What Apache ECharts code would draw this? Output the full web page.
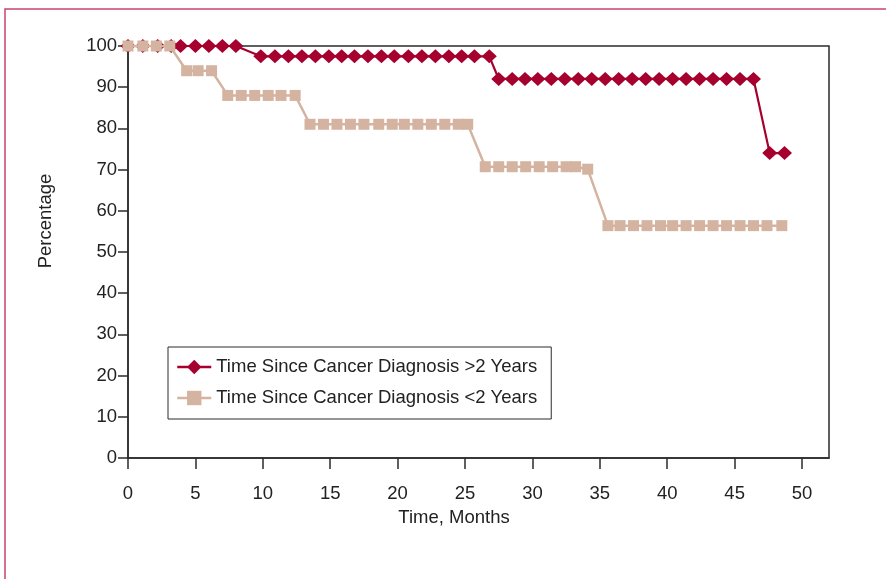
<!DOCTYPE html>
<html>
<head>
<meta charset="utf-8">
<script src="https://cdn.jsdelivr.net/npm/echarts@6/dist/echarts.min.js"></script>
<style>
html,body{margin:0;padding:0;background:#fff;}
#chart{width:886px;height:579px;}
</style>
</head>
<body>
<div id="chart"></div>
<script>
// Data
const seriesNames = ['Time Since Cancer Diagnosis >2 Years', 'Time Since Cancer Diagnosis <2 Years'];
const overX = [0, 1.1, 2.2, 3.2, 3.9, 5.0, 6.0, 7.0, 8.0,
  9.85, 10.9, 11.9, 12.9, 13.9, 14.9, 15.85, 16.8, 17.8, 18.8, 19.75, 20.8, 21.8, 22.8, 23.8, 24.75, 25.7, 26.8,
  27.5, 28.5, 29.45, 30.4, 31.4, 32.4, 33.4, 34.4, 35.4, 36.4, 37.4, 38.4, 39.4, 40.4, 41.4, 42.4, 43.4, 44.4, 45.4, 46.4,
  47.6, 48.7];
const overY = [100, 100, 100, 100, 100, 100, 100, 100, 100,
  97.5, 97.5, 97.5, 97.5, 97.5, 97.5, 97.5, 97.5, 97.5, 97.5, 97.5, 97.5, 97.5, 97.5, 97.5, 97.5, 97.5, 97.5,
  92, 92, 92, 92, 92, 92, 92, 92, 92, 92, 92, 92, 92, 92, 92, 92, 92, 92, 92, 92,
  74, 74];
const underX = [0, 1.1, 2.1, 3.1,
  4.35, 5.2, 6.2,
  7.4, 8.4, 9.4, 10.4, 11.35, 12.4,
  13.5, 14.5, 15.5, 16.5, 17.5, 18.6, 19.6, 20.5, 21.5, 22.5, 23.5, 24.5, 25.2,
  26.5, 27.5, 28.5, 29.5, 30.5, 31.5, 32.5, 33.2, 34.1,
  35.6, 36.5, 37.5, 38.5, 39.5, 40.4, 41.4, 42.4, 43.4, 44.4, 45.4, 46.4, 47.4, 48.5];
const underY = [100, 100, 100, 100,
  94, 94, 94,
  88, 88, 88, 88, 88, 88,
  81, 81, 81, 81, 81, 81, 81, 81, 81, 81, 81, 81, 81,
  70.7, 70.7, 70.7, 70.7, 70.7, 70.7, 70.7, 70.7, 70.1,
  56.4, 56.4, 56.4, 56.4, 56.4, 56.4, 56.4, 56.4, 56.4, 56.4, 56.4, 56.4, 56.4, 56.4];
const xTicks = [0, 5, 10, 15, 20, 25, 30, 35, 40, 45, 50];
const yTicks = [0, 10, 20, 30, 40, 50, 60, 70, 80, 90, 100];
const xTitle = 'Time, Months';
const yTitle = 'Percentage';

const FONT = "'Liberation Sans', Arial, sans-serif";
const FS = 18.5;
const RED = '#A6002F';
const TAN = '#D4B4A0';
const AX = '#2b2b2b';

function pairs(xs, ys) { return xs.map((x, i) => [x, ys[i]]); }

const chart = echarts.init(document.getElementById('chart'), null, {renderer: 'canvas'});
chart.setOption({
  animation: false,
  backgroundColor: '#fff',
  grid: {left: 128, top: 46, right: 57, bottom: 121, show: true, borderColor: AX, borderWidth: 1.5, backgroundColor: 'transparent'},
  xAxis: {
    type: 'value', min: 0, max: 52, interval: 5,
    axisLine: {show: true, lineStyle: {color: AX, width: 1.5}},
    axisTick: {show: true, length: 11, customValues: xTicks, lineStyle: {color: AX, width: 1.5}},
    axisLabel: {margin: 26, color: '#222', fontFamily: FONT, fontSize: FS, customValues: xTicks},
    splitLine: {show: false}
  },
  yAxis: {
    type: 'value', min: 0, max: 100, interval: 10,
    axisLine: {show: true, lineStyle: {color: AX, width: 1.5}},
    axisTick: {show: true, length: 10, customValues: yTicks, lineStyle: {color: AX, width: 1.5}},
    axisLabel: {margin: 11, color: '#222', fontFamily: FONT, fontSize: FS, customValues: yTicks},
    splitLine: {show: false}
  },
  legend: {
    orient: 'vertical', left: 168, top: 347,
    backgroundColor: '#fff', borderColor: AX, borderWidth: 1,
    padding: [9, 14, 10, 8], itemGap: 9, itemWidth: 34, itemHeight: 18,
    lineStyle: {width: 2.5},
    textStyle: {fontFamily: FONT, fontSize: FS, color: '#222', lineHeight: 22},
    data: seriesNames
  },
  graphic: [
    {type: 'rect', x: 5, y: 9, z: 100, silent: true,
      shape: {width: 1000, height: 1000}, style: {fill: 'none', stroke: '#C9446E', lineWidth: 1.5}},
    {type: 'text', x: 454, y: 518, style: {text: xTitle, font: FS + "px " + FONT, fill: '#222', textAlign: 'center', textVerticalAlign: 'middle'}},
    {type: 'text', x: 46, y: 221, rotation: Math.PI / 2, style: {text: yTitle, font: FS + "px " + FONT, fill: '#222', textAlign: 'center', textVerticalAlign: 'middle'}}
  ],
  series: [
    {name: seriesNames[0], type: 'line', data: pairs(overX, overY),
      symbol: 'diamond', symbolSize: [15, 14], showAllSymbol: true,
      lineStyle: {color: RED, width: 2.2}, itemStyle: {color: RED, borderWidth: 0}, z: 2},
    {name: seriesNames[1], type: 'line', data: pairs(underX, underY),
      symbol: 'rect', symbolSize: [11, 11], showAllSymbol: true,
      lineStyle: {color: TAN, width: 2.5}, itemStyle: {color: TAN, borderWidth: 0}, z: 3}
  ]
});
</script>
</body>
</html>
